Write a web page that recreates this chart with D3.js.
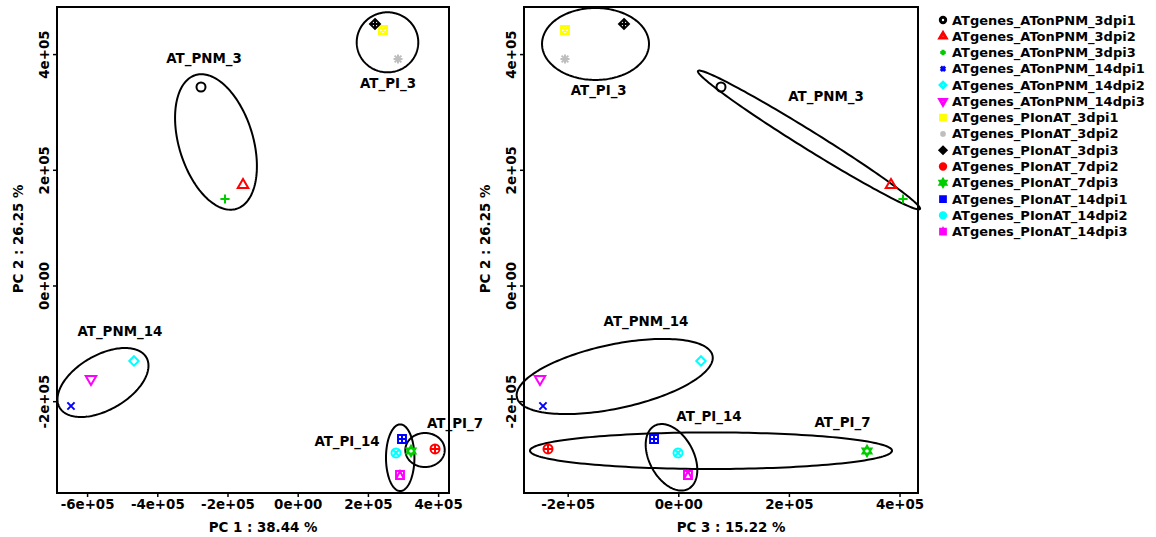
<!DOCTYPE html>
<html>
<head>
<meta charset="utf-8">
<script src="https://cdn.jsdelivr.net/npm/d3@7"></script>
<style>
  body { margin: 0; background: #fff; }
  svg text { font-family: "DejaVu Sans", sans-serif; font-weight: bold; }
</style>
</head>
<body>
<svg id="chart" width="1156" height="537"></svg>
<script>
// --------------------------------------------------------
// DATA
// --------------------------------------------------------
const samples = [
  "ATgenes_ATonPNM_3dpi1", "ATgenes_ATonPNM_3dpi2", "ATgenes_ATonPNM_3dpi3",
  "ATgenes_ATonPNM_14dpi1", "ATgenes_ATonPNM_14dpi2", "ATgenes_ATonPNM_14dpi3",
  "ATgenes_PIonAT_3dpi1", "ATgenes_PIonAT_3dpi2", "ATgenes_PIonAT_3dpi3",
  "ATgenes_PIonAT_7dpi2", "ATgenes_PIonAT_7dpi3",
  "ATgenes_PIonAT_14dpi1", "ATgenes_PIonAT_14dpi2", "ATgenes_PIonAT_14dpi3"
];
// R pch codes and palette colours
const pchCodes = [1, 2, 3, 4, 5, 6, 7, 8, 9, 10, 11, 12, 13, 14];
const colors = ["#000000", "#FF0000", "#00CD00", "#0000FF", "#00FFFF", "#FF00FF",
  "#FFFF00", "#BEBEBE", "#000000", "#FF0000", "#00CD00", "#0000FF", "#00FFFF", "#FF00FF"];

const pc1 = [-275500, -155800, -207100, -645900, -466400, -588900,
  243000, 285700, 220200, 391200, 322800, 297100, 280000, 291400];
const pc2 = [343100, 173700, 149500, -208300, -130500, -161600,
  441700, 391500, 452000, -282600, -286100, -265300, -289500, -327600];
const pc3 = [77200, 384600, 406300, -244700, 41000, -250100,
  -204900, -204900, -98200, -235600, 341200, -43900, -500, 17500];

const varPC1 = 38.44, varPC2 = 26.25, varPC3 = 15.22;

const xTicksPC1 = [-6e5, -4e5, -2e5, 0, 2e5, 4e5];
const xTicksPC3 = [-2e5, 0, 2e5, 4e5];
const yTicksPC2 = [-2e5, 0, 2e5, 4e5];

// group ellipses (data units): centre c, semi-axis vectors u and v, label anchor lab
const ellipsesPC1 = [
  { group: "AT_PNM_3", c: [-232800, 248100], u: [-58400, 115600], v: [100900, 18700], lab: [-266900, 392700] },
  { group: "AT_PNM_14", c: [-554700, -167700], u: [123600, 43300], v: [39000, -41000], lab: [-506500, -79900] },
  { group: "AT_PI_3", c: [255800, 420400], u: [87700, 0], v: [0, 51900], lab: [257300, 349500] },
  { group: "AT_PI_14", c: [292000, -297700], u: [0, 57600], v: [40500, 0], lab: [140500, -270000] },
  { group: "AT_PI_7", c: [362700, -284400], u: [56100, 0], v: [0, 29400], lab: [448100, -238200] }
];
const ellipsesPC3 = [
  { group: "AT_PI_3", c: [-149700, 417500], u: [96700, 0], v: [0, 62200], lab: [-143900, 336700] },
  { group: "AT_PNM_3", c: [236300, 251500], u: [200700, -119300], v: [8600, 13200], lab: [267100, 326400] },
  { group: "AT_PNM_14", c: [-115000, -157300], u: [176900, 36000], v: [12000, -54100], lab: [-58400, -62600] },
  { group: "AT_PI_7", c: [59100, -285600], u: [327300, 0], v: [0, 31600], lab: [296900, -237200] },
  { group: "AT_PI_14", c: [-12300, -297000], u: [-30400, 54600], v: [35400, 18000], lab: [55500, -226800] }
];

// --------------------------------------------------------
// LAYOUT
// --------------------------------------------------------
const svg = d3.select("#chart");
const plotTop = 7, plotBottom = 493;
const yDomain = [-358700, 481400];

const panels = [
  { xs: pc1, xDomain: [-685700, 431000], range: [57, 449], ticks: xTicksPC1,
    ellipses: ellipsesPC1, title: `PC 1 : ${varPC1} %`, titleShift: 10 },
  { xs: pc3, xDomain: [-279000, 433400], range: [524, 918], ticks: xTicksPC3,
    ellipses: ellipsesPC3, title: `PC 3 : ${varPC3} %`, titleShift: 10 }
];

// 4e+05 style labels, as R prints them
function fmtE(v) {
  const [m, e] = v.toExponential(0).split("e");
  const sign = e[0];
  const digits = e.slice(1).padStart(2, "0");
  return `${m}e${sign}${digits}`;
}

// R plotting symbols as svg paths (centred on 0,0)
function pchPath(p, k = 1) {
  const R = 4.5 * k;
  const circle = (r) => `M${-r},0A${r},${r} 0 1,0 ${r},0A${r},${r} 0 1,0 ${-r},0Z`;
  const square = (h) => `M${-h},${-h}H${h}V${h}H${-h}Z`;
  const plus = (h) => `M${-h},0H${h}M0,${-h}V${h}`;
  const cross = (h) => `M${-h},${-h}L${h},${h}M${-h},${h}L${h},${-h}`;
  const diamond = (h) => `M0,${-h}L${h},0L0,${h}L${-h},0Z`;
  const triUp = (r) => `M0,${-r}L${0.866 * r},${0.5 * r}L${-0.866 * r},${0.5 * r}Z`;
  const triDown = (r) => `M0,${r}L${0.866 * r},${-0.5 * r}L${-0.866 * r},${-0.5 * r}Z`;
  const h = R * 0.88;
  switch (p) {
    case 1: return circle(R);
    case 2: return triUp(R * 1.35);
    case 3: return plus(R * 1.02);
    case 4: return cross(R * 0.8);
    case 5: return diamond(R * 1.05);
    case 6: return triDown(R * 1.35);
    case 7: return square(h) + cross(h);
    case 8: return plus(R) + cross(R * 0.75);
    case 9: return diamond(R * 1.1) + plus(R * 1.1);
    case 10: return circle(R) + plus(R);
    case 11: return triUp(R * 1.15) + triDown(R * 1.15);
    case 12: return square(h) + plus(h);
    case 13: return circle(R) + cross(R * 0.7);
    case 14: return square(h) + `M${-h},${h}L0,${-h}L${h},${h}`;
  }
}

const y = d3.scaleLinear().domain(yDomain).range([plotBottom, plotTop]);
const fontSize = 13.4;

panels.forEach((pn) => {
  const x = d3.scaleLinear().domain(pn.xDomain).range(pn.range);
  const g = svg.append("g");

  // box
  g.append("rect")
    .attr("x", pn.range[0]).attr("y", plotTop)
    .attr("width", pn.range[1] - pn.range[0]).attr("height", plotBottom - plotTop)
    .attr("fill", "none").attr("stroke", "#000").attr("stroke-width", 2);

  // x axis
  const xa = g.append("g")
    .attr("transform", `translate(0,${plotBottom})`)
    .call(d3.axisBottom(x).tickValues(pn.ticks).tickFormat(fmtE)
      .tickSize(4).tickSizeOuter(0).tickPadding(2));
  xa.select(".domain").remove();
  xa.selectAll("line").attr("stroke-width", 1.5);
  xa.selectAll("text").attr("font-size", fontSize).attr("font-family", null).attr("fill", "#000");

  // y axis
  const ya = g.append("g")
    .attr("transform", `translate(${pn.range[0]},0)`)
    .call(d3.axisLeft(y).tickValues(yTicksPC2).tickFormat(fmtE)
      .tickSize(4).tickSizeOuter(0));
  ya.select(".domain").remove();
  ya.selectAll("line").attr("stroke-width", 1.5);
  ya.selectAll("text")
    .attr("font-size", fontSize).attr("font-family", null).attr("fill", "#000")
    .attr("x", null).attr("dy", null)
    .attr("text-anchor", "middle")
    .attr("dominant-baseline", "central")
    .attr("transform", "translate(-13,0) rotate(-90)");

  // axis titles
  svg.append("text")
    .attr("x", (pn.range[0] + pn.range[1]) / 2 + pn.titleShift)
    .attr("y", 527)
    .attr("text-anchor", "middle").attr("dominant-baseline", "central")
    .attr("font-size", fontSize)
    .text(pn.title);
  svg.append("text")
    .attr("transform", `translate(${pn.range[0] - 39},${(plotTop + plotBottom) / 2 - 11}) rotate(-90)`)
    .attr("text-anchor", "middle").attr("dominant-baseline", "central")
    .attr("font-size", fontSize)
    .text(`PC 2 : ${varPC2} %`);

  // ellipses
  const line = d3.line().curve(d3.curveLinearClosed);
  const ts = d3.range(0, 2 * Math.PI, Math.PI / 90);
  g.selectAll("path.ell")
    .data(pn.ellipses)
    .join("path")
    .attr("class", "ell")
    .attr("fill", "none").attr("stroke", "#000").attr("stroke-width", 2)
    .attr("d", (e) => line(ts.map((t) => [
      x(e.c[0] + Math.cos(t) * e.u[0] + Math.sin(t) * e.v[0]),
      y(e.c[1] + Math.cos(t) * e.u[1] + Math.sin(t) * e.v[1])
    ])));

  g.selectAll("text.grp")
    .data(pn.ellipses)
    .join("text")
    .attr("class", "grp")
    .attr("x", (e) => x(e.lab[0]))
    .attr("y", (e) => y(e.lab[1]))
    .attr("text-anchor", "middle").attr("dominant-baseline", "central")
    .attr("font-size", fontSize)
    .text((e) => e.group);

  // points
  g.selectAll("path.pt")
    .data(samples.map((s, i) => ({ s, i })))
    .join("path")
    .attr("class", "pt")
    .attr("transform", (d) => `translate(${x(pn.xs[d.i])},${y(pc2[d.i])})`)
    .attr("d", (d) => pchPath(pchCodes[d.i]))
    .attr("fill", "none")
    .attr("stroke", (d) => colors[d.i])
    .attr("stroke-width", 2);
});

// --------------------------------------------------------
// LEGEND
// --------------------------------------------------------
const legend = svg.append("g").attr("transform", "translate(943,20)");
const rows = legend.selectAll("g")
  .data(samples)
  .join("g")
  .attr("transform", (d, i) => `translate(0,${i * 16.28})`);
rows.append("path")
  .attr("d", (d, i) => pchPath(pchCodes[i], 0.6))
  .attr("fill", "none")
  .attr("stroke", (d, i) => colors[i])
  .attr("stroke-width", 3);
rows.append("text")
  .attr("x", 9)
  .attr("dominant-baseline", "central")
  .attr("font-size", 13)
  .text((d) => d);
</script>
</body>
</html>
